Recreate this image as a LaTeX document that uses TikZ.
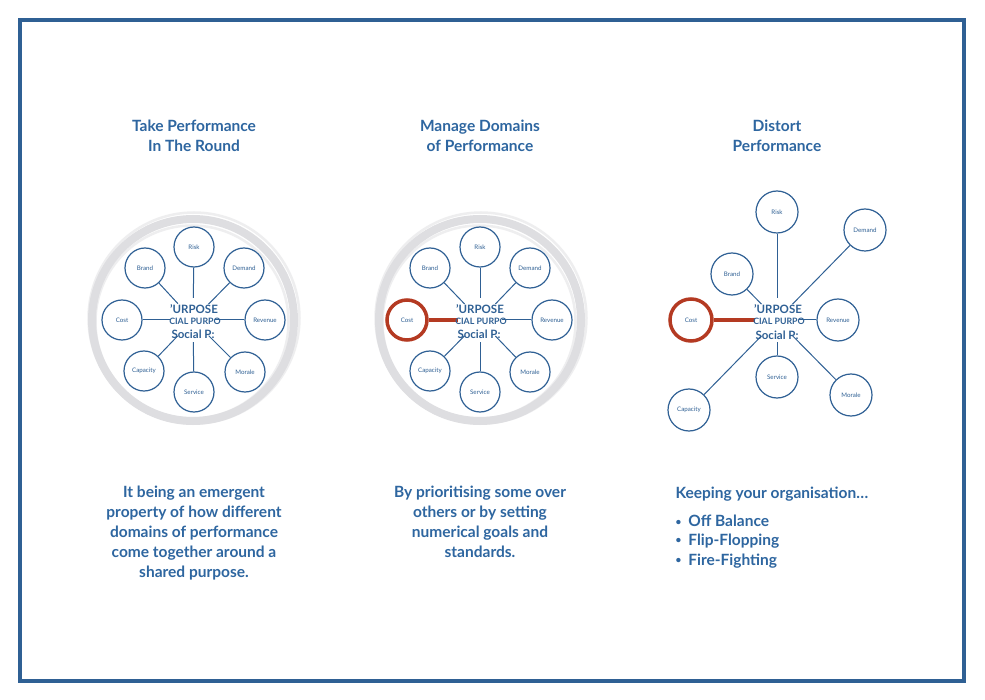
\documentclass[tikz,border=0pt]{standalone}
\usepackage{fontspec}
\setmainfont{Lato}
\definecolor{fb}{HTML}{2F6094}
\definecolor{tb}{HTML}{2E66A0}
\definecolor{rd}{HTML}{B43A22}
\definecolor{rg}{HTML}{DEDEE1}
\tikzset{
  dom/.style={circle,draw=fb,line width=1.2pt,minimum size=40pt,inner sep=0pt,fill=white,text=fb,font=\fontsize{6.2}{7}\selectfont},
  domb/.style={dom,minimum size=42pt},
  redom/.style={line width=3.5pt,draw=rd},
  hub/.style={circle,minimum size=44pt,inner sep=0pt},
  conn/.style={draw=fb,line width=1pt},
  rconn/.style={draw=rd,line width=4pt},
  ring/.style={draw=rg,line width=8pt},
  ringb/.style={draw=rg,line width=2.5pt,opacity=0.5},
  title/.style={text=tb,font=\bfseries\fontsize{15.5}{20}\selectfont,align=center},
  body/.style={text=tb,font=\bfseries\fontsize{15.5}{20}\selectfont,align=center},
  ctA/.style={text=fb,font=\bfseries\fontsize{11.5}{10}\selectfont,inner sep=0pt},
  ctB/.style={text=fb,font=\bfseries\fontsize{8.8}{8}\selectfont,inner sep=0pt},
}
\newcommand{\mybul}{\raisebox{1.5pt}{\fontsize{10}{10}\selectfont\textbullet}\hspace{7pt}}
\begin{document}
\begin{tikzpicture}[x=1pt,y=-1pt]
\useasboundingbox (0,0) rectangle (985,700);
\fill[white] (0,0) rectangle (985,700);
\draw[fb,line width=4pt] (20,20) rectangle (964,681);

% ---------- titles
\node[title] (t1) at (194,136) {Take Performance\\In The Round};
\node[title] (t2) at (480,136) {Manage Domains\\of Performance};
\node[title] (t3) at (777,136) {Distort\\Performance};

% ---------- panel 1
\draw[ring] (193,320) circle (101);
\draw[ringb] (194,318) circle (105.5);
\draw[ringb] (192,322) circle (96.5);
\node[hub] (h1) at (193,320) {};
\node[dom] (risk1) at (194,247) {Risk};
\node[dom] (brand1) at (145,268) {Brand};
\node[dom] (demand1) at (244,268) {Demand};
\node[dom] (cost1) at (122,320) {Cost};
\node[dom] (rev1) at (265,320) {Revenue};
\node[dom] (cap1) at (144,371) {Capacity};
\node[dom] (mor1) at (245,372) {Morale};
\node[dom] (serv1) at (194,392) {Service};
\foreach \n in {risk1,brand1,demand1,cost1,rev1,cap1,mor1,serv1} \draw[conn] (\n) -- (h1);
\node[ctA] (pa1) at (194,309) {’URPOSE};
\node[ctB] (pb1) at (195,321) {CIAL PURPO};
\node[ctA] (pc1) at (193,334) {Social P:};

% ---------- panel 2
\draw[ring] (480,320) circle (101);
\draw[ringb] (481,318) circle (105.5);
\draw[ringb] (479,322) circle (96.5);
\node[hub] (h2) at (480,320) {};
\node[dom] (risk2) at (480,247) {Risk};
\node[dom] (brand2) at (430,268) {Brand};
\node[dom] (demand2) at (530,268) {Demand};
\node[dom,redom] (cost2) at (407,320) {Cost};
\node[dom] (rev2) at (552,320) {Revenue};
\node[dom] (cap2) at (430,371) {Capacity};
\node[dom] (mor2) at (530,372) {Morale};
\node[dom] (serv2) at (480,392) {Service};
\foreach \n in {risk2,brand2,demand2,rev2,cap2,mor2,serv2} \draw[conn] (\n) -- (h2);
\draw[rconn] (cost2) -- (h2);
\node[ctA] (pa2) at (480,309) {’URPOSE};
\node[ctB] (pb2) at (481,321) {CIAL PURPO};
\node[ctA] (pc2) at (479,334) {Social P:};

% ---------- panel 3
\node[hub] (h3) at (777,320) {};
\node[domb] (risk3) at (777,212) {Risk};
\node[domb] (demand3) at (865,230) {Demand};
\node[domb] (brand3) at (732,274) {Brand};
\node[domb,redom] (cost3) at (691,320) {Cost};
\node[domb] (rev3) at (838,320) {Revenue};
\node[domb] (serv3) at (777,377) {Service};
\node[domb] (mor3) at (851,395) {Morale};
\node[domb] (cap3) at (689,410) {Capacity};
\foreach \n in {risk3,demand3,brand3,rev3,serv3,mor3,cap3} \draw[conn] (\n) -- (h3);
\draw[rconn] (cost3) -- (h3);
\node[ctA] (pa3) at (778,309) {’URPOSE};
\node[ctB] (pb3) at (779,321) {CIAL PURPO};
\node[ctA] (pc3) at (777,335) {Social P:};

% ---------- body texts
\node[body,anchor=north] (b1) at (194,482) {It being an emergent\\property of how different\\domains of performance\\come together around a\\shared purpose.};
\node[body,anchor=north] (b2) at (480,482) {By prioritising some over\\others or by setting\\numerical goals and\\standards.};
\node[body,anchor=west] (b3) at (672,494) {Keeping your organisation…};
\node[body,anchor=west] (l1) at (672,521) {\mybul Off Balance};
\node[body,anchor=west] (l2) at (672,541) {\mybul Flip-Flopping};
\node[body,anchor=west] (l3) at (672,561) {\mybul Fire-Fighting};
\end{tikzpicture}
\end{document}
